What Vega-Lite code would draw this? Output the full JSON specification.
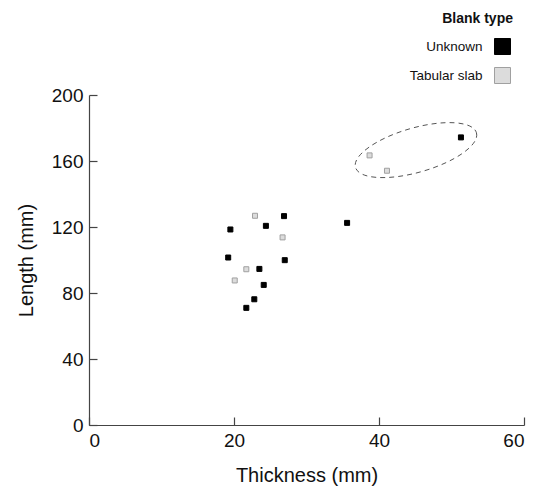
{
  "$schema": "https://vega.github.io/schema/vega-lite/v6.json",
  "width": 435,
  "height": 330,
  "autosize": {"type": "none"},
  "padding": {"left": 89, "top": 95, "right": 15, "bottom": 63},
  "background": "white",
  "datasets": {
    "points": [
      {"thickness": 26.9, "length": 126.6, "type": "Unknown"},
      {"thickness": 24.4, "length": 120.7, "type": "Unknown"},
      {"thickness": 19.5, "length": 118.5, "type": "Unknown"},
      {"thickness": 19.2, "length": 101.5, "type": "Unknown"},
      {"thickness": 27.0, "length": 99.9, "type": "Unknown"},
      {"thickness": 23.5, "length": 94.6, "type": "Unknown"},
      {"thickness": 24.1, "length": 84.9, "type": "Unknown"},
      {"thickness": 22.8, "length": 76.2, "type": "Unknown"},
      {"thickness": 21.7, "length": 71.0, "type": "Unknown"},
      {"thickness": 35.6, "length": 122.5, "type": "Unknown"},
      {"thickness": 51.3, "length": 174.3, "type": "Unknown"},
      {"thickness": 22.9, "length": 126.8, "type": "Tabular slab"},
      {"thickness": 26.7, "length": 113.7, "type": "Tabular slab"},
      {"thickness": 21.7, "length": 94.4, "type": "Tabular slab"},
      {"thickness": 20.1, "length": 87.6, "type": "Tabular slab"},
      {"thickness": 38.7, "length": 163.4, "type": "Tabular slab"},
      {"thickness": 41.1, "length": 154.1, "type": "Tabular slab"}
    ],
    "ellipse": [
      {"thickness": 45.1, "length": 166.6}
    ]
  },
  "layer": [
    {
      "data": {"name": "ellipse"},
      "mark": {
        "type": "point",
        "shape": "M0.9613,-0.2756 C1.015,-0.0882 0.6282,0.1871 0.0973,0.3393 C-0.4336,0.4915 -0.9076,0.463 -0.9613,0.2756 C-1.015,0.0882 -0.6282,-0.1871 -0.0973,-0.3393 C0.4336,-0.4915 0.9076,-0.463 0.9613,-0.2756 Z",
        "size": 15826,
        "filled": false,
        "stroke": "#555555",
        "strokeWidth": 1,
        "strokeDash": [5, 4],
        "opacity": 1
      },
      "encoding": {
        "x": {"field": "thickness", "type": "quantitative"},
        "y": {"field": "length", "type": "quantitative"}
      }
    },
    {
      "data": {"name": "points"},
      "mark": {"type": "point", "shape": "square", "filled": true, "size": 25, "strokeWidth": 1, "opacity": 1},
      "encoding": {
        "x": {
          "field": "thickness", "type": "quantitative",
          "scale": {"domain": [0, 60], "nice": false, "zero": true},
          "axis": {"values": [0, 20, 40, 60], "title": "Thickness (mm)"}
        },
        "y": {
          "field": "length", "type": "quantitative",
          "scale": {"domain": [0, 200], "nice": false, "zero": true},
          "axis": {"values": [0, 40, 80, 120, 160, 200], "title": "Length (mm)"}
        },
        "fill": {
          "field": "type", "type": "nominal",
          "scale": {"domain": ["Unknown", "Tabular slab"], "range": ["#000000", "#dcdcdc"]},
          "legend": {"title": "Blank type"}
        },
        "stroke": {
          "field": "type", "type": "nominal",
          "scale": {"domain": ["Unknown", "Tabular slab"], "range": ["#000000", "#a0a0a0"]},
          "legend": {"title": "Blank type"}
        }
      }
    }
  ],
  "config": {
    "view": {"stroke": null},
    "font": "Liberation Sans",
    "axis": {
      "grid": false,
      "domainColor": "#444444",
      "domainWidth": 1.2,
      "tickColor": "#444444",
      "tickWidth": 1.2,
      "tickSize": -8,
      "labelPadding": 14,
      "labelFont": "Liberation Sans",
      "labelFontSize": 19,
      "labelColor": "#111111",
      "titleFont": "Liberation Sans",
      "titleFontSize": 20,
      "titleFontWeight": "normal",
      "titleColor": "#111111",
      "titlePadding": 15
    },
    "legend": {
      "orient": "none",
      "legendX": 353,
      "legendY": -83,
      "symbolType": "square",
      "symbolSize": 256,
      "symbolStrokeWidth": 1,
      "labelAlign": "right",
      "labelOffset": -28.5,
      "labelFontSize": 13.5,
      "labelFont": "Liberation Sans",
      "labelColor": "#111111",
      "labelBaseline": "middle",
      "titleFont": "Liberation Sans",
      "titleFontSize": 14,
      "titleFontWeight": "bold",
      "titleColor": "#111111",
      "titleAnchor": "end",
      "titlePadding": 12,
      "rowPadding": 8
    }
  }
}
